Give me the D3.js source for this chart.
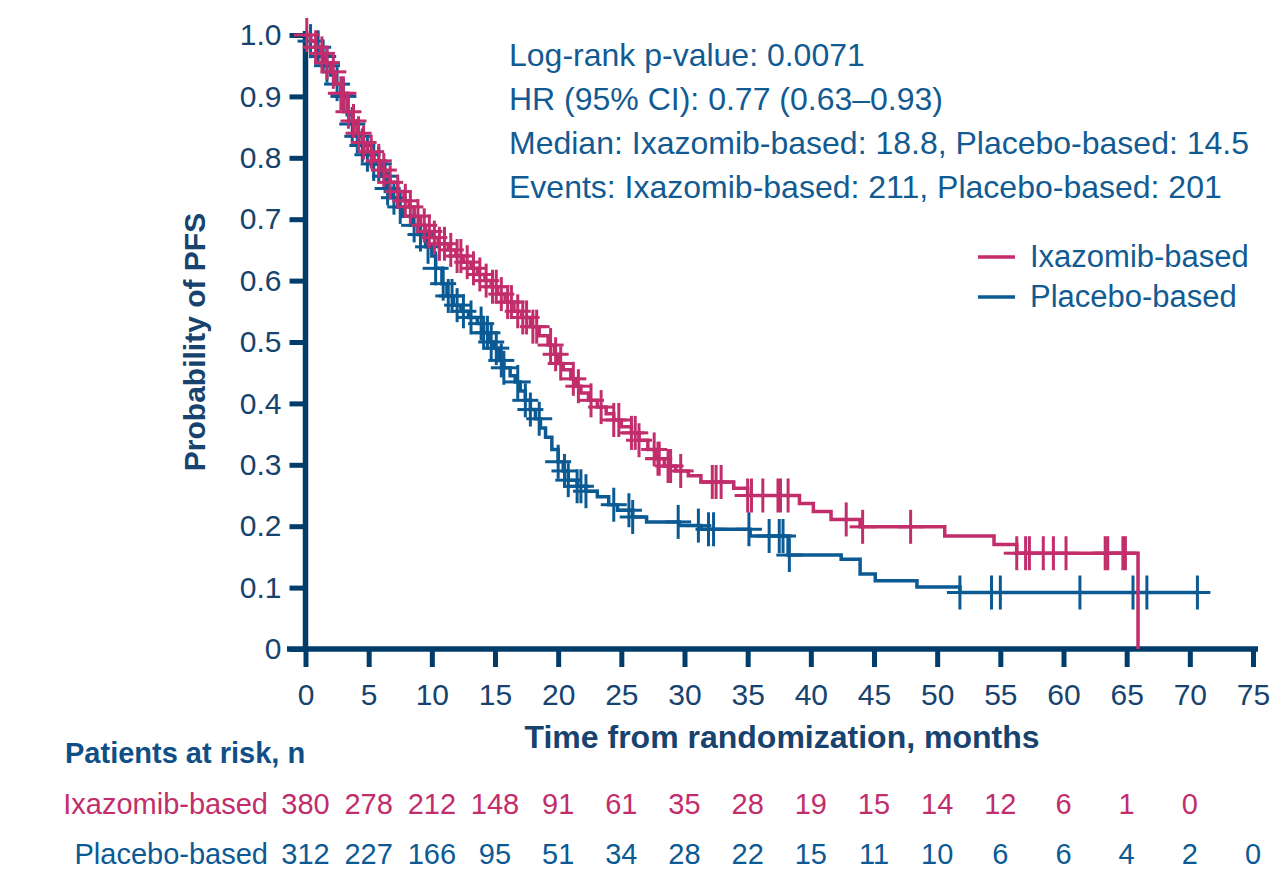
<!DOCTYPE html>
<html>
<head>
<meta charset="utf-8">
<script src="https://cdn.jsdelivr.net/npm/d3@7"></script>
<style>
  body { margin: 0; background: #fff; }
  text { font-family: "Liberation Sans", Arial, sans-serif; }
</style>
</head>
<body>
<svg id="chart" width="1271" height="885"></svg>
<script>
// KM step points [months, probability]
var ixaSteps = [[0,1.0],[0.4,0.99],[0.8,0.98],[1.2,0.97],[1.6,0.955],[2.0,0.94],[2.4,0.92],[2.8,0.905],[3.3,0.875],[3.7,0.86],[4.1,0.84],[4.5,0.825],[4.9,0.81],[5.4,0.795],[5.9,0.78],[6.3,0.77],[6.7,0.76],[7.3,0.745],[7.8,0.73],[8.2,0.72],[8.6,0.705],[9.1,0.69],[9.5,0.68],[9.9,0.67],[10.5,0.66],[11.3,0.65],[11.9,0.64],[12.5,0.63],[13.1,0.62],[13.6,0.61],[14.2,0.60],[14.7,0.59],[15.2,0.578],[15.8,0.565],[16.5,0.55],[17.1,0.54],[17.8,0.525],[18.5,0.51],[19.2,0.495],[19.7,0.48],[20.0,0.465],[20.4,0.455],[21.0,0.44],[21.4,0.428],[21.8,0.417],[22.4,0.405],[23.1,0.394],[23.8,0.383],[24.4,0.373],[25.0,0.362],[25.8,0.352],[26.4,0.34],[27.1,0.325],[27.7,0.31],[28.4,0.298],[29.3,0.29],[30.3,0.282],[31.3,0.272],[33.9,0.262],[35.0,0.25],[39.1,0.237],[40.2,0.224],[41.6,0.211],[43.9,0.199],[50.6,0.184],[54.5,0.170],[56.3,0.156],[65.9,0]];
var plaSteps = [[0,1.0],[0.4,0.99],[0.8,0.98],[1.2,0.965],[1.6,0.95],[2.0,0.935],[2.4,0.92],[2.8,0.9],[3.3,0.87],[3.7,0.855],[4.1,0.835],[4.5,0.82],[4.9,0.805],[5.4,0.79],[6.0,0.77],[6.4,0.75],[6.8,0.735],[7.3,0.72],[7.7,0.705],[8.4,0.69],[8.9,0.675],[9.5,0.655],[10.0,0.64],[10.3,0.62],[10.8,0.595],[11.2,0.575],[11.7,0.56],[12.3,0.55],[12.9,0.54],[13.6,0.53],[14.1,0.515],[14.5,0.5],[14.9,0.49],[15.3,0.47],[15.7,0.458],[16.2,0.445],[16.6,0.435],[17.0,0.42],[17.4,0.405],[17.8,0.39],[18.2,0.375],[18.6,0.36],[19.0,0.345],[19.5,0.325],[20.0,0.305],[20.4,0.29],[20.8,0.275],[21.5,0.265],[22.2,0.257],[23.1,0.248],[24.0,0.235],[24.7,0.226],[25.9,0.215],[27.0,0.207],[29.6,0.201],[31.3,0.195],[35.2,0.184],[38.2,0.153],[42.4,0.146],[43.9,0.122],[45.1,0.111],[48.4,0.101],[51.8,0.092],[70.6,0.092]];

// censoring times (months)
var ixaCensor = [0.1,0.8,1.3,1.7,2.2,2.8,3.0,3.4,3.8,4.2,4.6,5.2,5.8,6.2,6.7,7.3,7.9,8.3,8.9,9.4,9.8,10.2,10.6,11.0,11.5,12.0,12.3,12.8,13.3,13.8,14.3,14.8,15.1,15.5,16.0,16.3,16.8,17.2,17.5,18.0,18.3,19.4,19.8,20.2,21.2,21.6,22.6,23.4,24.4,24.8,25.8,26.1,26.4,27.6,27.9,28.0,28.7,28.9,29.7,32.2,32.5,32.9,35.0,35.3,36.2,37.4,37.6,38.2,42.8,44.1,47.9,56.3,57.0,57.3,58.4,59.2,60.2,63.3,63.5,64.7,64.9];
var plaCensor = [0.4,1.0,1.4,1.7,2.5,3.0,3.7,4.1,4.5,4.9,5.4,5.8,6.3,6.5,7.0,7.5,8.6,9.1,9.7,10.3,10.9,11.3,11.6,12.0,12.5,13.1,13.9,14.1,14.4,14.7,15.1,15.5,15.7,16.8,17.4,17.8,18.5,20.0,20.5,20.8,21.5,21.8,22.2,24.4,25.6,25.9,29.5,31.1,31.9,32.3,35.1,36.7,37.5,37.8,38.3,51.8,54.3,55.0,61.3,65.5,66.6,70.6];

var xTicks = [0,5,10,15,20,25,30,35,40,45,50,55,60,65,70,75];
var yTicks = [0,0.1,0.2,0.3,0.4,0.5,0.6,0.7,0.8,0.9,1.0];

var riskTimes = [0,5,10,15,20,25,30,35,40,45,50,55,60,65,70,75];
var ixaRisk = [380,278,212,148,91,61,35,28,19,15,14,12,6,1,0];
var plaRisk = [312,227,166,95,51,34,28,22,15,11,10,6,6,4,2,0];

var seriesNames = ["Ixazomib-based", "Placebo-based"];
var statLines = [
  "Log-rank p-value: 0.0071",
  "HR (95% CI): 0.77 (0.63\u20130.93)",
  "Median: Ixazomib-based: 18.8, Placebo-based: 14.5",
  "Events: Ixazomib-based: 211, Placebo-based: 201"
];

var MAGENTA = "#c22d6c", BLUE = "#0b5a94", NAVY = "#003d6b", TITLE = "#17436e";

var svg = d3.select("#chart");
var x = d3.scaleLinear().domain([0, 75]).range([305.5, 1253]);
var y = d3.scaleLinear().domain([0, 1]).range([649, 35]);

// axes
var gx = svg.append("g").attr("transform", "translate(0,649)")
    .call(d3.axisBottom(x).tickValues(xTicks).tickSize(18).tickSizeOuter(0).tickPadding(17).tickFormat(d3.format("d")));
var gy = svg.append("g").attr("transform", "translate(305.5,0)")
    .call(d3.axisLeft(y).tickValues(yTicks).tickSize(16).tickSizeOuter(0).tickPadding(8)
      .tickFormat(function(d){ return d === 0 ? "0" : d.toFixed(1); }));
[gx, gy].forEach(function(g){
  g.select(".domain").attr("stroke", NAVY).attr("stroke-width", 5.5);
  g.selectAll(".tick line").attr("stroke", NAVY).attr("stroke-width", 5);
  g.selectAll(".tick text").attr("fill", TITLE).style("font-size", "30px");
});
gx.select(".domain").attr("d", "M287,0H1258");
gy.select(".domain").attr("d", "M0,31V651");

// axis titles
svg.append("text").attr("transform", "translate(205,342) rotate(-90)")
  .attr("text-anchor", "middle").attr("fill", TITLE)
  .style("font-size", "30px").style("font-weight", "bold").text("Probability of PFS");
svg.append("text").attr("x", 782).attr("y", 748).attr("text-anchor", "middle")
  .attr("fill", TITLE).style("font-size", "32px").style("font-weight", "bold")
  .text("Time from randomization, months");

// curves
var line = d3.line().x(function(d){ return x(d[0]); }).y(function(d){ return y(d[1]); })
  .curve(d3.curveStepAfter);
var bis = d3.bisector(function(d){ return d[0]; }).right;
function survAt(steps, t) { return steps[Math.max(0, bis(steps, t) - 1)][1]; }

var series = [
  {steps: plaSteps, censor: plaCensor, color: BLUE},
  {steps: ixaSteps, censor: ixaCensor, color: MAGENTA}
];
series.forEach(function(s){
  var g = svg.append("g");
  g.append("path").datum(s.steps).attr("d", line)
    .attr("fill", "none").attr("stroke", s.color).attr("stroke-width", 3.5);
  var c = g.selectAll("g.cens").data(s.censor).enter().append("g")
    .attr("transform", function(t){ return "translate(" + x(t) + "," + y(survAt(s.steps, t)) + ")"; });
  c.append("line").attr("x1", -13).attr("x2", 13).attr("y1", 0).attr("y2", 0)
    .attr("stroke", s.color).attr("stroke-width", 3);
  c.append("line").attr("x1", 0).attr("x2", 0).attr("y1", -17).attr("y2", 17)
    .attr("stroke", s.color).attr("stroke-width", 3);
});

// stats text
svg.append("g").selectAll("text").data(statLines).enter().append("text")
  .attr("x", 509).attr("y", function(d, i){ return 66 + i * 44; })
  .attr("fill", "#125b92").style("font-size", "32px").text(function(d){ return d; });

// legend
var leg = svg.append("g").selectAll("g").data(seriesNames).enter().append("g")
  .attr("transform", function(d, i){ return "translate(978," + (257 + i * 40) + ")"; });
leg.append("line").attr("x1", 0).attr("x2", 37).attr("stroke", function(d, i){ return i ? BLUE : MAGENTA; })
  .attr("stroke-width", 3.5);
leg.append("text").attr("x", 52).attr("y", 10).attr("fill", "#125b92")
  .style("font-size", "31px").text(function(d){ return d; });

// risk table
svg.append("text").attr("x", 65).attr("y", 763).attr("fill", "#0f4f85")
  .style("font-size", "29px").style("font-weight", "bold").text("Patients at risk, n");
var rows = [{name: seriesNames[0], vals: ixaRisk, color: MAGENTA, yy: 814},
            {name: seriesNames[1], vals: plaRisk, color: BLUE, yy: 864}];
rows.forEach(function(r){
  svg.append("text").attr("x", 268).attr("y", r.yy).attr("text-anchor", "end")
    .attr("fill", r.color).style("font-size", "29px").text(r.name);
  svg.append("g").selectAll("text").data(r.vals).enter().append("text")
    .attr("x", function(d, i){ return x(riskTimes[i]); }).attr("y", r.yy)
    .attr("text-anchor", "middle").attr("fill", r.color).style("font-size", "29px")
    .text(function(d){ return d; });
});
</script>
</body>
</html>
